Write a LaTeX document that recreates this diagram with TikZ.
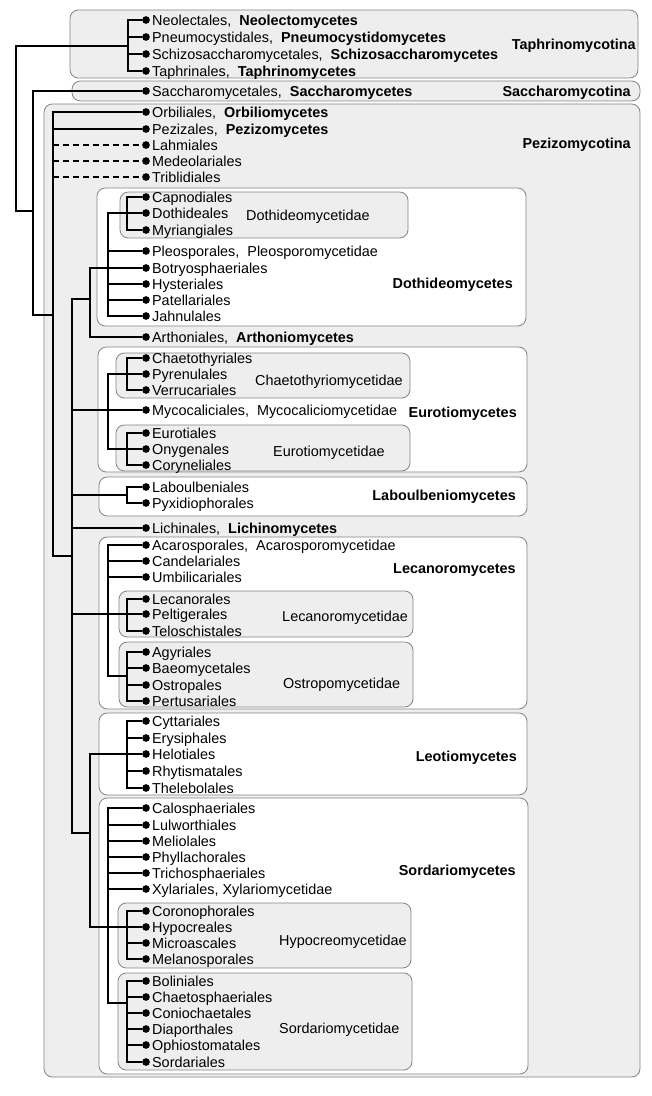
\documentclass[tikz,border=0pt]{standalone}
\usepackage{fontspec}
\setmainfont{Liberation Sans}
\usepackage{xcolor}
\definecolor{boxline}{HTML}{858585}
\definecolor{boxfill}{HTML}{EEEEEE}

\tikzset{
  leaf/.style={circle,fill=black,inner sep=0pt,minimum size=2.3mm,
    label={[lbl,label distance=0.55mm]right:#1}},
  lbl/.style={inner sep=0pt,text height=9pt,text depth=0pt},
  tree/.style={line width=1.6pt},
  dsh/.style={tree,dash pattern=on 5pt off 3.5pt},
  grpbox/.style={draw=boxline,line width=0.7pt,rounded corners=2.5mm,fill=boxfill},
  clsbox/.style={grpbox,fill=white},
}

\begin{document}
\begin{tikzpicture}[x=0.03cm,y=-0.03cm,font=\fontsize{12.3pt}{14pt}\selectfont]
\useasboundingbox (0,0) rectangle (652,1096);

% subphyla, classes, subclasses
\draw[grpbox] (70,10) rectangle (638,78);
\draw[grpbox] (72,81) rectangle (640,101);
\draw[grpbox] (44,104) rectangle (640,1077);
\draw[clsbox] (97,188) rectangle (526,326);
\draw[grpbox] (120,192) rectangle (408,238);
\draw[clsbox] (98,347) rectangle (527,472);
\draw[grpbox] (116,353) rectangle (410,398);
\draw[grpbox] (116,425) rectangle (410,471);
\draw[clsbox] (99,477) rectangle (527,516);
\draw[clsbox] (99,537) rectangle (527,709);
\draw[grpbox] (119,591) rectangle (413,637);
\draw[grpbox] (119,642) rectangle (413,707);
\draw[clsbox] (99,713) rectangle (527,795);
\draw[clsbox] (99,798) rectangle (528,1074);
\draw[grpbox] (118,903) rectangle (411,968);
\draw[grpbox] (118,973) rectangle (412,1070);

\node[lbl,anchor=east] (taphrino) at (636,44) {\textbf{Taphrinomycotina}};
\node[lbl,anchor=east] (saccharo) at (631,91) {\textbf{Saccharomycotina}};
\node[lbl,anchor=east] (pezizo) at (631,143) {\textbf{Pezizomycotina}};
\node[lbl,anchor=east] (dothideo) at (513,283) {\textbf{Dothideomycetes}};
\node[lbl,anchor=east] (eurotio) at (517,412) {\textbf{Eurotiomycetes}};
\node[lbl,anchor=east] (laboulbenio) at (516,495) {\textbf{Laboulbeniomycetes}};
\node[lbl,anchor=east] (lecanoro) at (516,568) {\textbf{Lecanoromycetes}};
\node[lbl,anchor=east] (leotio) at (517,756) {\textbf{Leotiomycetes}};
\node[lbl,anchor=east] (sordario) at (516,870) {\textbf{Sordariomycetes}};
\node[lbl,anchor=west] (dothideoi) at (246,215) {Dothideomycetidae};
\node[lbl,anchor=west] (chaetoi) at (255,380) {Chaetothyriomycetidae};
\node[lbl,anchor=west] (eurotioi) at (273,451) {Eurotiomycetidae};
\node[lbl,anchor=west] (lecanoroi) at (282,616) {Lecanoromycetidae};
\node[lbl,anchor=west] (ostropoi) at (283,683) {Ostropomycetidae};
\node[lbl,anchor=west] (hypocreoi) at (279,940) {Hypocreomycetidae};
\node[lbl,anchor=west] (sordarioi) at (279,1028) {Sordariomycetidae};

% orders
\node[leaf={Neolectales,\ \ \textbf{Neolectomycetes}}] (neo) at (146,20) {};
\node[leaf={Pneumocystidales,\ \ \textbf{Pneumocystidomycetes}}] (pne) at (146,37) {};
\node[leaf={Schizosaccharomycetales,\ \ \textbf{Schizosaccharomycetes}}] (sch) at (146,54) {};
\node[leaf={Taphrinales,\ \ \textbf{Taphrinomycetes}}] (tap) at (146,71) {};
\node[leaf={Saccharomycetales,\ \ \textbf{Saccharomycetes}}] (sac) at (146,91) {};
\node[leaf={Orbiliales,\ \ \textbf{Orbiliomycetes}}] (orb) at (146,112) {};
\node[leaf={Pezizales,\ \ \textbf{Pezizomycetes}}] (pez) at (146,129) {};
\node[leaf={Lahmiales}] (lah) at (146,145) {};
\node[leaf={Medeolariales}] (med) at (146,161) {};
\node[leaf={Triblidiales}] (tri) at (146,177) {};
\node[leaf={Capnodiales}] (cap) at (146,197) {};
\node[leaf={Dothideales}] (dot) at (146,213) {};
\node[leaf={Myriangiales}] (myr) at (146,230) {};
\node[leaf={Pleosporales,\ \ Pleosporomycetidae}] (ple) at (146,251) {};
\node[leaf={Botryosphaeriales}] (bot) at (146,268) {};
\node[leaf={Hysteriales}] (hys) at (146,284) {};
\node[leaf={Patellariales}] (pat) at (146,300) {};
\node[leaf={Jahnulales}] (jah) at (146,316) {};
\node[leaf={Arthoniales,\ \ \textbf{Arthoniomycetes}}] (art) at (146,337) {};
\node[leaf={Chaetothyriales}] (cht) at (146,358) {};
\node[leaf={Pyrenulales}] (pyr) at (146,374) {};
\node[leaf={Verrucariales}] (ver) at (146,390) {};
\node[leaf={Mycocaliciales,\ \ Mycocaliciomycetidae}] (myc) at (146,410) {};
\node[leaf={Eurotiales}] (eur) at (146,433) {};
\node[leaf={Onygenales}] (ony) at (146,449) {};
\node[leaf={Coryneliales}] (cor) at (146,465) {};
\node[leaf={Laboulbeniales}] (lab) at (146,487) {};
\node[leaf={Pyxidiophorales}] (pyx) at (146,503) {};
\node[leaf={Lichinales,\ \ \textbf{Lichinomycetes}}] (lic) at (146,528) {};
\node[leaf={Acarosporales,\ \ Acarosporomycetidae}] (aca) at (146,545) {};
\node[leaf={Candelariales}] (can) at (146,561) {};
\node[leaf={Umbilicariales}] (umb) at (146,577) {};
\node[leaf={Lecanorales}] (lec) at (146,599) {};
\node[leaf={Peltigerales}] (pel) at (146,614) {};
\node[leaf={Teloschistales}] (tel) at (146,631) {};
\node[leaf={Agyriales}] (agy) at (146,652) {};
\node[leaf={Baeomycetales}] (bae) at (146,668) {};
\node[leaf={Ostropales}] (ost) at (146,685) {};
\node[leaf={Pertusariales}] (per) at (146,701) {};
\node[leaf={Cyttariales}] (cyt) at (146,721) {};
\node[leaf={Erysiphales}] (ery) at (146,738) {};
\node[leaf={Helotiales}] (hel) at (146,754) {};
\node[leaf={Rhytismatales}] (rhy) at (146,771) {};
\node[leaf={Thelebolales}] (thb) at (146,788) {};
\node[leaf={Calosphaeriales}] (cal) at (146,808) {};
\node[leaf={Lulworthiales}] (lul) at (146,825) {};
\node[leaf={Meliolales}] (mel) at (146,841) {};
\node[leaf={Phyllachorales}] (phy) at (146,857) {};
\node[leaf={Trichosphaeriales}] (trc) at (146,873) {};
\node[leaf={Xylariales, Xylariomycetidae}] (xyl) at (146,889) {};
\node[leaf={Coronophorales}] (crn) at (146,911) {};
\node[leaf={Hypocreales}] (hyc) at (146,927) {};
\node[leaf={Microascales}] (mic) at (146,943) {};
\node[leaf={Melanosporales}] (mln) at (146,959) {};
\node[leaf={Boliniales}] (bol) at (146,981) {};
\node[leaf={Chaetosphaeriales}] (chs) at (146,997) {};
\node[leaf={Coniochaetales}] (con) at (146,1013) {};
\node[leaf={Diaporthales}] (dia) at (146,1029) {};
\node[leaf={Ophiostomatales}] (oph) at (146,1045) {};
\node[leaf={Sordariales}] (sdl) at (146,1062) {};

% inner branch points
\coordinate (root) at (16,129);
\coordinate (taph) at (128,46);
\coordinate (asco) at (33,211);
\coordinate (pezi) at (53,315);
\coordinate (lfung) at (72,556);
\coordinate (dotart) at (90,299);
\coordinate (doth) at (108,268);
\coordinate (dothi) at (127,213);
\coordinate (euro) at (108,410);
\coordinate (chae) at (127,374);
\coordinate (euroi) at (127,449);
\coordinate (labo) at (127,495);
\coordinate (leca) at (108,614);
\coordinate (lecai) at (127,614);
\coordinate (ostr) at (127,676);
\coordinate (leosor) at (90,833);
\coordinate (leot) at (127,754);
\coordinate (sord) at (108,927);
\coordinate (hypo) at (127,927);
\coordinate (sordi) at (127,1003);

\draw[tree] (root) |- (taph);
\draw[tree] (root) |- (asco);
\draw[tree] (taph) |- (neo);
\draw[tree] (taph) |- (pne);
\draw[tree] (taph) |- (sch);
\draw[tree] (taph) |- (tap);
\draw[tree] (asco) |- (sac);
\draw[tree] (asco) |- (pezi);
\draw[tree] (pezi) |- (orb);
\draw[tree] (pezi) |- (pez);
\draw[tree] (pezi) |- (lfung);
\draw[dsh] (pezi |- lah) -- (lah);
\draw[dsh] (pezi |- med) -- (med);
\draw[dsh] (pezi |- tri) -- (tri);
\draw[tree] (lfung) |- (dotart);
\draw[tree] (lfung) |- (euro);
\draw[tree] (lfung) |- (labo);
\draw[tree] (lfung) |- (lic);
\draw[tree] (lfung) |- (leca);
\draw[tree] (lfung) |- (leosor);
\draw[tree] (dotart) |- (doth);
\draw[tree] (dotart) |- (art);
\draw[tree] (doth) |- (dothi);
\draw[tree] (doth) |- (ple);
\draw[tree] (doth) |- (bot);
\draw[tree] (doth) |- (hys);
\draw[tree] (doth) |- (pat);
\draw[tree] (doth) |- (jah);
\draw[tree] (dothi) |- (cap);
\draw[tree] (dothi) |- (dot);
\draw[tree] (dothi) |- (myr);
\draw[tree] (euro) |- (chae);
\draw[tree] (euro) |- (myc);
\draw[tree] (euro) |- (euroi);
\draw[tree] (chae) |- (cht);
\draw[tree] (chae) |- (pyr);
\draw[tree] (chae) |- (ver);
\draw[tree] (euroi) |- (eur);
\draw[tree] (euroi) |- (ony);
\draw[tree] (euroi) |- (cor);
\draw[tree] (labo) |- (lab);
\draw[tree] (labo) |- (pyx);
\draw[tree] (leca) |- (aca);
\draw[tree] (leca) |- (can);
\draw[tree] (leca) |- (umb);
\draw[tree] (leca) |- (lecai);
\draw[tree] (leca) |- (ostr);
\draw[tree] (lecai) |- (lec);
\draw[tree] (lecai) |- (pel);
\draw[tree] (lecai) |- (tel);
\draw[tree] (ostr) |- (agy);
\draw[tree] (ostr) |- (bae);
\draw[tree] (ostr) |- (ost);
\draw[tree] (ostr) |- (per);
\draw[tree] (leosor) |- (leot);
\draw[tree] (leosor) |- (sord);
\draw[tree] (leot) |- (cyt);
\draw[tree] (leot) |- (ery);
\draw[tree] (leot) |- (hel);
\draw[tree] (leot) |- (rhy);
\draw[tree] (leot) |- (thb);
\draw[tree] (sord) |- (cal);
\draw[tree] (sord) |- (lul);
\draw[tree] (sord) |- (mel);
\draw[tree] (sord) |- (phy);
\draw[tree] (sord) |- (trc);
\draw[tree] (sord) |- (xyl);
\draw[tree] (sord) |- (hypo);
\draw[tree] (sord) |- (sordi);
\draw[tree] (hypo) |- (crn);
\draw[tree] (hypo) |- (hyc);
\draw[tree] (hypo) |- (mic);
\draw[tree] (hypo) |- (mln);
\draw[tree] (sordi) |- (bol);
\draw[tree] (sordi) |- (chs);
\draw[tree] (sordi) |- (con);
\draw[tree] (sordi) |- (dia);
\draw[tree] (sordi) |- (oph);
\draw[tree] (sordi) |- (sdl);
\end{tikzpicture}
\end{document}
